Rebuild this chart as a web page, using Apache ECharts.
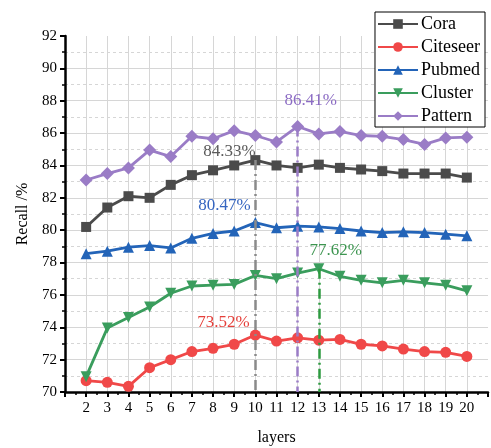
<!DOCTYPE html>
<html>
<head>
<meta charset="utf-8">
<script src="https://cdn.jsdelivr.net/npm/echarts@6/dist/echarts.min.js"></script>
<style>
  html, body { margin: 0; padding: 0; background: #fff; }
  #chart { width: 491px; height: 448px; }
</style>
</head>
<body>
<div id="chart"></div>
<script>
// Recall (%) per number of layers for each dataset
const layers   = [2, 3, 4, 5, 6, 7, 8, 9, 10, 11, 12, 13, 14, 15, 16, 17, 18, 19, 20];
const cora     = [80.2, 81.4, 82.1, 82.0, 82.8, 83.4, 83.7, 84.0, 84.33, 84.0, 83.85, 84.05, 83.85, 83.75, 83.65, 83.5, 83.5, 83.5, 83.25];
const citeseer = [70.7, 70.6, 70.35, 71.5, 72.0, 72.5, 72.7, 72.95, 73.52, 73.15, 73.35, 73.2, 73.25, 72.95, 72.85, 72.65, 72.5, 72.45, 72.2];
const pubmed   = [78.55, 78.7, 78.95, 79.05, 78.9, 79.5, 79.8, 79.95, 80.47, 80.15, 80.25, 80.2, 80.1, 79.95, 79.85, 79.9, 79.85, 79.75, 79.65];
const cluster  = [70.95, 73.95, 74.6, 75.25, 76.1, 76.55, 76.6, 76.65, 77.2, 77.0, 77.35, 77.62, 77.15, 76.9, 76.75, 76.9, 76.75, 76.6, 76.25];
const pattern  = [83.1, 83.5, 83.85, 84.95, 84.55, 85.8, 85.65, 86.15, 85.85, 85.45, 86.41, 85.95, 86.1, 85.85, 85.8, 85.6, 85.3, 85.7, 85.75];
const yTicks   = [70, 72, 74, 76, 78, 80, 82, 84, 86, 88, 90, 92];

const FONT = '"Liberation Serif", "Times New Roman", serif';

function peakIndex(vals) {
  let k = 0;
  vals.forEach((v, i) => { if (v > vals[k]) k = i; });
  return k;
}

function makeSeries(name, vals, color, symbol, size, opts) {
  const k = peakIndex(vals);
  const px = layers[k], py = vals[k];
  const s = {
    name: name,
    type: 'line',
    data: layers.map((x, i) => [x, vals[i]]),
    symbol: symbol,
    symbolSize: size,
    symbolRotate: opts.rotate || 0,
    itemStyle: { color: color },
    lineStyle: { color: color, width: 2.8 },
    z: opts.z || 2,
    markPoint: {
      symbol: 'circle',
      symbolSize: 0,
      silent: true,
      itemStyle: { color: 'rgba(0,0,0,0)' },
      label: {
        show: true,
        position: 'inside',
        offset: opts.offset,
        color: opts.labelColor,
        fontFamily: FONT,
        fontSize: 17,
        formatter: () => py.toFixed(2) + '%'
      },
      data: [{ coord: [px, py] }]
    }
  };
  if (opts.drop) {
    s.markLine = {
      silent: true,
      symbol: 'none',
      label: { show: false },
      lineStyle: { color: opts.dropColor || color, width: 2.5, type: [10, 4, 2, 4] },
      data: [[{ coord: [px, py] }, { coord: [px, yTicks[0]] }]]
    };
  }
  return s;
}

const chart = echarts.init(document.getElementById('chart'), null, { renderer: 'canvas' });

chart.setOption({
  backgroundColor: '#fff',
  animation: false,
  textStyle: { fontFamily: FONT },
  grid: { left: 65, right: 3, top: 36, bottom: 56, containLabel: false, outerBoundsMode: 'none' },
  legend: {
    orient: 'vertical',
    right: 6,
    top: 12,
    padding: [3, 5, 2, 2],
    itemGap: 5,
    itemWidth: 40,
    itemHeight: 12,
    borderColor: '#000',
    borderWidth: 1,
    backgroundColor: '#fff',
    textStyle: { fontFamily: FONT, fontSize: 18, color: '#000', padding: [0, 0, 0, -2] },
    data: ['Cora', 'Citeseer', 'Pubmed', 'Cluster', 'Pattern']
  },
  xAxis: {
    type: 'value',
    min: 1,
    max: 21,
    interval: 1,
    name: 'layers',
    nameLocation: 'middle',
    nameGap: 38,
    nameTextStyle: { fontFamily: FONT, fontSize: 16, color: '#000' },
    axisLine: { show: true, onZero: false, lineStyle: { color: '#000', width: 2.5 } },
    axisTick: { show: true, inside: false, length: 5, lineStyle: { color: '#000', width: 2 } },
    minorTick: { show: true, splitNumber: 2, length: 3, lineStyle: { color: '#000', width: 1.5 } },
    axisLabel: {
      fontFamily: FONT, fontSize: 15, color: '#000', margin: 9,
      formatter: v => (layers.indexOf(v) >= 0 ? String(v) : '')
    },
    splitLine: { show: true, showMinLine: false, showMaxLine: false, lineStyle: { color: '#d6d6d6', width: 1 } }
  },
  yAxis: {
    type: 'value',
    min: yTicks[0],
    max: yTicks[yTicks.length - 1],
    interval: 2,
    name: 'Recall /%',
    nameLocation: 'middle',
    nameRotate: 90,
    nameGap: 33,
    nameTextStyle: { fontFamily: FONT, fontSize: 16, color: '#000' },
    axisLine: { show: true, onZero: false, lineStyle: { color: '#000', width: 2.5 } },
    axisTick: { show: true, inside: false, length: 5, lineStyle: { color: '#000', width: 2 } },
    minorTick: { show: true, splitNumber: 2, length: 3, lineStyle: { color: '#000', width: 1.5 } },
    axisLabel: { fontFamily: FONT, fontSize: 15, color: '#000', margin: 8 },
    splitLine: { show: true, showMinLine: false, showMaxLine: false, lineStyle: { color: '#d6d6d6', width: 1 } },
    minorSplitLine: { show: true, lineStyle: { color: '#d6d6d6', width: 1, type: [3, 3] } }
  },
  series: [
    makeSeries('Cora', cora, '#4b4b4b', 'rect', 10,
      { offset: [-26, -9], labelColor: '#5a5a5a', drop: true, dropColor: '#8a8a8a' }),
    makeSeries('Citeseer', citeseer, '#f04848', 'circle', 11,
      { offset: [-32, -13], labelColor: '#e53f3a' }),
    makeSeries('Pubmed', pubmed, '#2364b8', 'triangle', 11,
      { offset: [-31, -17], labelColor: '#3565c0' }),
    makeSeries('Cluster', cluster, '#3a9d5d', 'triangle', 11,
      { offset: [17, -18], labelColor: '#3d9550', drop: true, dropColor: '#2e9a40', rotate: 180 }),
    makeSeries('Pattern', pattern, '#9a7cc6', 'diamond', 13,
      { offset: [13, -26], labelColor: '#8c6cc4', drop: true })
  ]
});
</script>
</body>
</html>
